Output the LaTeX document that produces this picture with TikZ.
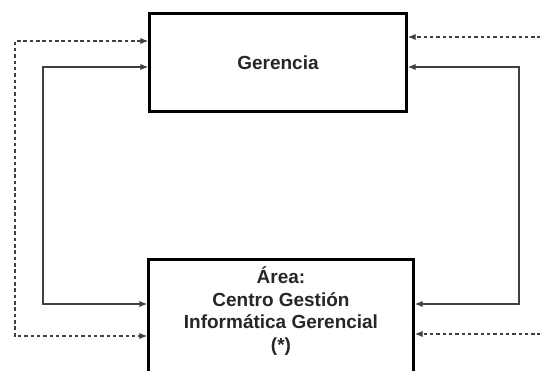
\documentclass[tikz,border=0pt]{standalone}
\usepackage{fontspec}
\setmainfont{Liberation Sans}
\usetikzlibrary{arrows.meta,positioning}

\begin{document}
\begin{tikzpicture}[
  x=0.25mm, y=-0.25mm,
  box/.style={draw,line width=2pt,align=center,text=black!85,font=\fontsize{13.5}{16}\selectfont\bfseries},
  link/.style={{Latex[length=5.5pt,width=4.5pt]}-{Latex[length=5.5pt,width=4.5pt]},line width=0.75pt,draw=black!75},
  dlink/.style={link,dash pattern=on 2.5pt off 2pt},
  inlink/.style={-{Latex[length=5.5pt,width=4.5pt]},line width=0.75pt,draw=black!75,dash pattern=on 2.5pt off 2pt}
]
\useasboundingbox (0,0) rectangle (540,370);
% Boxes
\node[box,minimum width=64.25mm,minimum height=24.5mm] (ger) at (278,62.5) {Gerencia};
\node[box,anchor=north,minimum width=66.25mm,inner ysep=5.5pt,text depth=24mm] (area) at (281,258)
  {Área:\\Centro Gestión\\Informática Gerencial\\(*)};
% Corners on the left and right
\coordinate (ld1) at (15,41);
\coordinate (ld2) at (15,336);
\coordinate (ls1) at (43,67);
\coordinate (ls2) at (43,304);
\coordinate (rs1) at (519,67);
\coordinate (rs2) at (519,304);
\coordinate (rd1) at (541,37);
\coordinate (rd2) at (541,334);

\draw[dlink] (ger.west |- ld1) -- (ld1) -- (ld2) -- (area.west |- ld2);
\draw[link] (ger.west |- ls1) -- (ls1) -- (ls2) -- (area.west |- ls2);
\draw[link] (ger.east |- rs1) -- (rs1) -- (rs2) -- (area.east |- rs2);
\draw[inlink] (rd1) -- (ger.east |- rd1);
\draw[inlink] (rd2) -- (area.east |- rd2);
\end{tikzpicture}
\end{document}
